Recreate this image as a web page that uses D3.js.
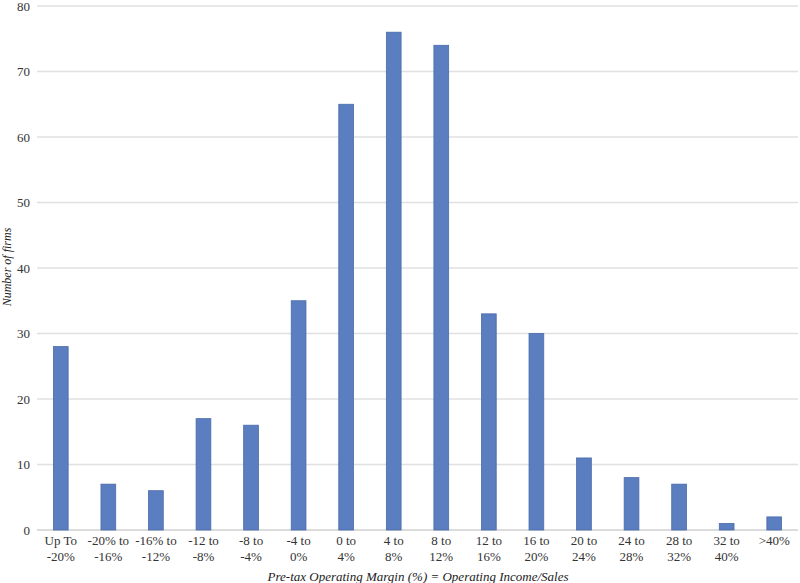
<!DOCTYPE html>
<html><head><meta charset="utf-8">
<script src="https://cdn.jsdelivr.net/npm/d3@7"></script>
<style>body{margin:0;background:#fff}svg{display:block}</style>
</head><body>
<svg id="c" width="800" height="583"></svg>
<script>
const categories = [["Up To","-20%"],["-20% to","-16%"],["-16% to","-12%"],["-12 to","-8%"],["-8 to","-4%"],["-4 to","0%"],["0 to","4%"],["4 to","8%"],["8 to","12%"],["12 to","16%"],["16 to","20%"],["20 to","24%"],["24 to","28%"],["28 to","32%"],["32 to","40%"],[">40%"]];
const values = [28,7,6,17,16,35,65,76,74,33,30,11,8,7,1,2];
const yTicks = [0,10,20,30,40,50,60,70,80];
const xTitle = "Pre-tax Operating Margin (%) = Operating Income/Sales";
const yTitle = "Number of firms";

(function(){
const svg = d3.select("#c");
const mLeft = 37, mRight = 798, mTop = 6, mBottom = 530;
const font = "'Liberation Serif','Times New Roman',serif";
const idx = categories.map((d,i)=>i);
const x = d3.scaleBand().domain(idx).range([mLeft,mRight]).paddingInner(0.69).paddingOuter(0.345);
const y = d3.scaleLinear().domain([0,80]).range([mBottom,mTop]);

svg.append("g").selectAll("line").data(yTicks).join("line")
  .attr("x1",mLeft).attr("x2",mRight).attr("y1",d=>y(d)).attr("y2",d=>y(d))
  .attr("stroke",d=>d===0?"#d0d0d0":"#e0e0e0").attr("stroke-width",1.3);

svg.append("g").selectAll("text").data(yTicks).join("text")
  .attr("x",30).attr("y",d=>y(d)+4.5).attr("text-anchor","end")
  .attr("font-family",font).attr("font-size",13).attr("fill","#333").text(d=>d);

svg.append("g").selectAll("rect").data(values).join("rect")
  .attr("x",(d,i)=>x(i)).attr("width",x.bandwidth())
  .attr("y",d=>y(d)).attr("height",d=>y(0)-y(d))
  .attr("fill","#5b7ec0").attr("stroke","#4a6aa9").attr("stroke-width",0.8);

const xl = svg.append("g").selectAll("text").data(categories).join("text")
  .attr("text-anchor","middle").attr("font-family",font).attr("font-size",13).attr("fill","#333")
  .attr("transform",(d,i)=>`translate(${x(i)+x.bandwidth()/2},545)`);
xl.selectAll("tspan").data(d=>d).join("tspan").attr("x",0).attr("dy",(d,i)=>i===0?0:16).text(d=>d);

svg.append("text").attr("x",418).attr("y",581).attr("text-anchor","middle")
  .attr("font-family",font).attr("font-style","italic").attr("font-size",13).attr("fill","#222").text(xTitle);
svg.append("text").attr("transform","translate(11,267) rotate(-90)").attr("text-anchor","middle")
  .attr("font-family",font).attr("font-style","italic").attr("font-size",12).attr("fill","#222").text(yTitle);
})();
</script>
</body></html>
